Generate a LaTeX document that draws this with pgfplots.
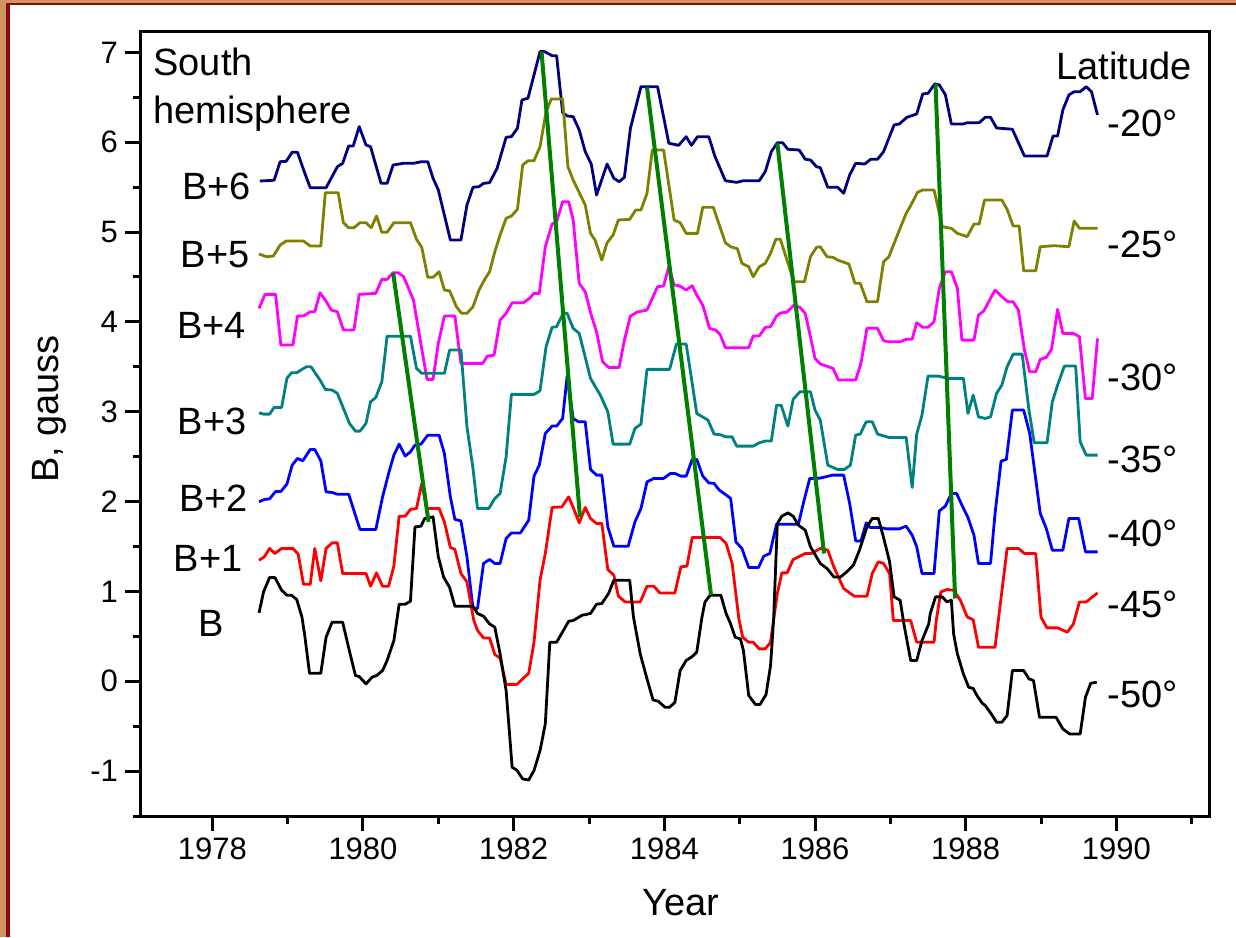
\documentclass[border=0pt]{standalone}
\usepackage{fontspec}
\setmainfont{Liberation Sans}
\usepackage{pgfplots}
\pgfplotsset{compat=1.18}
\definecolor{cnavy}{RGB}{0,0,128}
\definecolor{colive}{RGB}{128,128,0}
\definecolor{cmag}{RGB}{255,0,255}
\definecolor{cteal}{RGB}{0,128,128}
\definecolor{cblue}{RGB}{0,0,255}
\definecolor{cred}{RGB}{255,0,0}
\definecolor{cgreen}{RGB}{0,128,0}
\definecolor{wood}{RGB}{205,148,96}
\definecolor{frred}{RGB}{140,10,10}
\begin{document}
\begin{tikzpicture}[x=1pt,y=1pt]
\useasboundingbox (0,0) rectangle (618,468.5);
\fill[white] (0,0) rectangle (618,468.5);
\fill[wood] (0,0) rectangle (3,468.5);
\fill[wood] (0,467.15) rectangle (618,468.5);
\fill[frred] (3,0) rectangle (5,465.85);
\fill[frred] (3,465.85) rectangle (618,467.15);
\begin{axis}[
  at={(70pt,60.5pt)}, anchor=south west,
  scale only axis, width=534.5pt, height=392.15pt,
  xmin=1977.04, xmax=1991.23, ymin=-1.5, ymax=7.23,
  axis line style={line width=1.5pt},
  tick style={line width=1.5pt, black},
  tick align=outside, tick pos=left,
  major tick length=7.5pt, minor tick length=3.75pt,
  xtick={1978,1980,...,1990}, minor xtick={1979,1981,...,1991},
  ytick={-1,0,...,7}, minor ytick={-1.5,-0.5,...,6.5},
  /pgf/number format/assume math mode=true,
  /pgf/number format/1000 sep={},
  ticklabel style={font=\fontsize{15.5}{18}\selectfont},
  every axis plot/.append style={line width=1.4pt, line join=round},
  clip=false,
]
% B+6
\addplot[cnavy] coordinates {(1978.63,5.568)(1978.82,5.576)(1978.90,5.783)(1978.98,5.787)(1979.06,5.888)(1979.13,5.888)(1979.22,5.672)(1979.30,5.493)(1979.51,5.493)(1979.66,5.727)(1979.73,5.765)(1979.81,5.958)(1979.87,5.958)(1979.95,6.173)(1980.04,5.969)(1980.10,5.950)(1980.24,5.542)(1980.32,5.542)(1980.40,5.746)(1980.54,5.765)(1980.67,5.765)(1980.78,5.783)(1980.86,5.783)(1980.93,5.598)(1981.00,5.468)(1981.16,4.911)(1981.30,4.911)(1981.38,5.301)(1981.46,5.498)(1981.54,5.505)(1981.60,5.542)(1981.68,5.549)(1981.78,5.709)(1981.90,6.055)(1981.97,6.061)(1982.05,6.155)(1982.11,6.470)(1982.19,6.489)(1982.35,7.008)(1982.41,7.008)(1982.51,6.963)(1982.57,6.963)(1982.65,6.329)(1982.71,6.292)(1982.79,6.284)(1982.87,6.136)(1982.95,5.894)(1983.03,5.757)(1983.10,5.412)(1983.24,5.757)(1983.33,5.598)(1983.40,5.560)(1983.47,5.609)(1983.55,6.155)(1983.69,6.618)(1983.91,6.618)(1984.06,5.988)(1984.19,5.965)(1984.29,6.061)(1984.36,5.965)(1984.44,6.061)(1984.59,6.061)(1984.67,5.846)(1984.81,5.571)(1984.96,5.553)(1985.05,5.571)(1985.26,5.571)(1985.34,5.672)(1985.42,5.894)(1985.50,5.994)(1985.57,5.994)(1985.64,5.921)(1985.79,5.913)(1985.87,5.810)(1985.94,5.802)(1986.02,5.727)(1986.07,5.716)(1986.17,5.498)(1986.30,5.498)(1986.38,5.431)(1986.46,5.635)(1986.54,5.765)(1986.66,5.757)(1986.74,5.810)(1986.83,5.810)(1986.91,5.894)(1987.05,6.192)(1987.12,6.203)(1987.22,6.277)(1987.35,6.314)(1987.43,6.537)(1987.50,6.544)(1987.59,6.648)(1987.65,6.637)(1987.73,6.529)(1987.81,6.203)(1987.97,6.203)(1988.02,6.217)(1988.18,6.217)(1988.26,6.277)(1988.33,6.277)(1988.41,6.158)(1988.62,6.144)(1988.78,5.846)(1989.08,5.846)(1989.16,6.069)(1989.22,6.069)(1989.29,6.359)(1989.37,6.526)(1989.44,6.562)(1989.52,6.562)(1989.60,6.618)(1989.67,6.562)(1989.75,6.303)};
% B+5
\addplot[colive] coordinates {(1978.62,4.755)(1978.72,4.725)(1978.81,4.733)(1978.90,4.855)(1978.98,4.900)(1979.21,4.900)(1979.30,4.844)(1979.44,4.844)(1979.50,5.438)(1979.67,5.438)(1979.74,5.104)(1979.81,5.048)(1979.88,5.048)(1979.96,5.104)(1980.04,5.104)(1980.11,5.048)(1980.18,5.178)(1980.25,4.997)(1980.32,4.997)(1980.41,5.104)(1980.63,5.104)(1980.71,4.919)(1980.78,4.830)(1980.86,4.496)(1980.93,4.496)(1981.01,4.558)(1981.08,4.354)(1981.15,4.346)(1981.24,4.168)(1981.31,4.095)(1981.38,4.095)(1981.46,4.168)(1981.54,4.354)(1981.61,4.465)(1981.68,4.558)(1981.75,4.781)(1981.82,4.967)(1981.90,5.153)(1981.97,5.178)(1982.05,5.253)(1982.12,5.746)(1982.19,5.794)(1982.27,5.794)(1982.35,5.950)(1982.43,6.340)(1982.50,6.481)(1982.65,6.481)(1982.72,5.727)(1982.79,5.579)(1982.95,5.301)(1983.02,4.985)(1983.08,4.911)(1983.17,4.688)(1983.24,4.881)(1983.32,4.967)(1983.39,5.134)(1983.54,5.141)(1983.62,5.245)(1983.69,5.245)(1983.77,5.431)(1983.84,5.913)(1983.99,5.913)(1984.13,5.134)(1984.21,5.104)(1984.29,4.985)(1984.44,4.985)(1984.51,5.275)(1984.65,5.275)(1984.81,4.881)(1984.88,4.836)(1984.97,4.814)(1985.03,4.651)(1985.12,4.614)(1985.18,4.502)(1985.26,4.614)(1985.34,4.651)(1985.41,4.763)(1985.48,4.919)(1985.54,4.919)(1985.72,4.447)(1985.86,4.447)(1985.94,4.725)(1986.02,4.830)(1986.07,4.836)(1986.16,4.725)(1986.24,4.718)(1986.30,4.688)(1986.45,4.644)(1986.53,4.429)(1986.60,4.429)(1986.69,4.224)(1986.83,4.224)(1986.91,4.669)(1986.98,4.725)(1987.12,5.022)(1987.21,5.208)(1987.27,5.293)(1987.36,5.442)(1987.43,5.468)(1987.58,5.468)(1987.69,5.059)(1987.81,5.041)(1987.89,4.985)(1988.02,4.948)(1988.11,5.089)(1988.18,5.089)(1988.25,5.356)(1988.48,5.356)(1988.55,5.253)(1988.63,5.067)(1988.71,5.067)(1988.77,4.569)(1988.93,4.569)(1988.99,4.836)(1989.17,4.848)(1989.37,4.836)(1989.44,5.122)(1989.51,5.041)(1989.75,5.041)};
% B+4
\addplot[cmag] coordinates {(1978.62,4.150)(1978.70,4.306)(1978.84,4.306)(1978.91,3.742)(1979.07,3.742)(1979.13,4.065)(1979.21,4.065)(1979.30,4.112)(1979.36,4.112)(1979.43,4.324)(1979.50,4.243)(1979.58,4.131)(1979.66,4.112)(1979.74,3.909)(1979.88,3.909)(1979.95,4.306)(1980.17,4.317)(1980.25,4.473)(1980.32,4.473)(1980.40,4.547)(1980.47,4.547)(1980.54,4.502)(1980.67,4.243)(1980.76,3.797)(1980.85,3.360)(1980.93,3.360)(1981.00,3.761)(1981.08,4.065)(1981.22,4.065)(1981.30,3.538)(1981.59,3.538)(1981.65,3.619)(1981.74,3.630)(1981.82,4.020)(1981.90,4.095)(1981.98,4.213)(1982.13,4.213)(1982.21,4.262)(1982.27,4.317)(1982.34,4.317)(1982.42,4.836)(1982.51,5.089)(1982.57,5.115)(1982.65,5.337)(1982.73,5.337)(1982.79,5.134)(1982.87,4.429)(1982.95,4.335)(1983.03,4.076)(1983.10,3.890)(1983.18,3.556)(1983.26,3.493)(1983.40,3.493)(1983.47,3.797)(1983.55,4.065)(1983.64,4.109)(1983.77,4.131)(1983.91,4.391)(1983.99,4.399)(1984.06,4.614)(1984.13,4.410)(1984.20,4.402)(1984.29,4.354)(1984.37,4.402)(1984.43,4.298)(1984.51,4.187)(1984.60,3.928)(1984.68,3.909)(1984.74,3.861)(1984.81,3.712)(1985.12,3.712)(1985.18,3.842)(1985.26,3.842)(1985.34,3.939)(1985.41,3.946)(1985.49,4.065)(1985.54,4.098)(1985.63,4.109)(1985.72,4.187)(1985.80,4.161)(1985.87,4.095)(1985.94,3.834)(1986.00,3.594)(1986.07,3.530)(1986.24,3.482)(1986.31,3.352)(1986.54,3.352)(1986.61,3.538)(1986.69,3.928)(1986.83,3.928)(1986.91,3.790)(1986.99,3.778)(1987.13,3.778)(1987.21,3.805)(1987.29,3.808)(1987.35,3.990)(1987.43,3.939)(1987.50,3.939)(1987.58,4.001)(1987.65,4.373)(1987.73,4.558)(1987.81,4.558)(1987.89,4.373)(1987.95,3.797)(1988.11,3.797)(1988.17,4.076)(1988.24,4.120)(1988.39,4.354)(1988.48,4.280)(1988.56,4.224)(1988.63,4.224)(1988.70,4.131)(1988.78,3.686)(1988.85,3.444)(1988.93,3.444)(1988.99,3.582)(1989.07,3.605)(1989.14,3.694)(1989.22,4.139)(1989.29,3.872)(1989.43,3.872)(1989.51,3.834)(1989.59,3.148)(1989.68,3.148)(1989.75,3.816)};
% B+3
\addplot[cteal] coordinates {(1978.62,2.988)(1978.68,2.973)(1978.76,2.973)(1978.82,3.048)(1978.92,3.048)(1978.99,3.371)(1979.05,3.433)(1979.12,3.433)(1979.19,3.471)(1979.25,3.500)(1979.31,3.500)(1979.43,3.352)(1979.50,3.248)(1979.59,3.241)(1979.66,3.204)(1979.82,2.870)(1979.90,2.784)(1979.96,2.784)(1980.04,2.870)(1980.10,3.110)(1980.17,3.159)(1980.25,3.333)(1980.32,3.840)(1980.63,3.840)(1980.71,3.482)(1980.78,3.427)(1981.08,3.427)(1981.15,3.686)(1981.30,3.686)(1981.38,2.832)(1981.46,2.369)(1981.52,1.923)(1981.67,1.923)(1981.75,2.035)(1981.82,2.090)(1981.90,2.498)(1981.97,3.193)(1982.27,3.193)(1982.35,3.233)(1982.43,3.723)(1982.51,3.939)(1982.57,3.946)(1982.66,4.101)(1982.71,4.095)(1982.79,3.928)(1982.87,3.872)(1983.02,3.371)(1983.15,3.185)(1983.25,2.999)(1983.32,2.639)(1983.54,2.639)(1983.61,2.814)(1983.69,2.862)(1983.77,3.471)(1984.07,3.471)(1984.16,3.753)(1984.29,3.753)(1984.37,3.315)(1984.43,2.981)(1984.58,2.906)(1984.66,2.751)(1984.75,2.743)(1984.81,2.720)(1984.90,2.720)(1984.96,2.617)(1985.18,2.617)(1985.26,2.654)(1985.34,2.673)(1985.42,2.673)(1985.49,3.073)(1985.55,3.073)(1985.64,2.840)(1985.71,3.137)(1985.80,3.222)(1985.94,3.222)(1986.00,3.018)(1986.07,2.906)(1986.17,2.405)(1986.30,2.357)(1986.39,2.357)(1986.47,2.405)(1986.54,2.739)(1986.60,2.751)(1986.68,2.888)(1986.76,2.888)(1986.83,2.751)(1986.98,2.714)(1987.21,2.714)(1987.29,2.157)(1987.35,2.751)(1987.42,2.962)(1987.50,3.396)(1987.64,3.396)(1987.76,3.371)(1987.97,3.371)(1988.03,2.981)(1988.10,3.185)(1988.17,2.943)(1988.26,2.925)(1988.33,2.943)(1988.41,3.204)(1988.48,3.296)(1988.55,3.500)(1988.63,3.641)(1988.75,3.641)(1988.84,3.018)(1988.91,2.654)(1989.08,2.654)(1989.15,3.110)(1989.22,3.296)(1989.31,3.508)(1989.46,3.508)(1989.52,2.665)(1989.60,2.517)(1989.75,2.517)};
% B+2
\addplot[cblue] coordinates {(1978.62,1.997)(1978.69,2.023)(1978.76,2.030)(1978.84,2.112)(1978.91,2.112)(1978.99,2.194)(1979.06,2.405)(1979.13,2.480)(1979.20,2.453)(1979.30,2.580)(1979.36,2.580)(1979.44,2.453)(1979.51,2.108)(1979.59,2.101)(1979.66,2.082)(1979.81,2.082)(1979.96,1.689)(1980.17,1.689)(1980.26,2.052)(1980.34,2.313)(1980.41,2.517)(1980.48,2.639)(1980.56,2.506)(1980.63,2.553)(1980.69,2.628)(1980.77,2.639)(1980.86,2.739)(1981.01,2.739)(1981.08,2.536)(1981.16,2.052)(1981.22,1.801)(1981.30,1.785)(1981.38,1.384)(1981.46,0.810)(1981.52,0.810)(1981.60,1.311)(1981.68,1.355)(1981.75,1.311)(1981.82,1.311)(1981.90,1.589)(1981.97,1.651)(1982.09,1.651)(1982.20,1.793)(1982.27,2.283)(1982.34,2.405)(1982.42,2.758)(1982.51,2.840)(1982.57,2.840)(1982.65,2.925)(1982.71,3.396)(1982.79,2.925)(1982.86,2.888)(1982.95,2.888)(1983.02,2.357)(1983.10,2.294)(1983.17,2.294)(1983.25,1.718)(1983.33,1.503)(1983.52,1.503)(1983.61,1.774)(1983.69,1.923)(1983.77,2.219)(1983.86,2.257)(1983.99,2.257)(1984.08,2.313)(1984.14,2.313)(1984.22,2.283)(1984.29,2.283)(1984.37,2.469)(1984.43,2.469)(1984.51,2.283)(1984.59,2.208)(1984.66,2.202)(1984.73,2.127)(1984.81,2.079)(1984.88,2.035)(1984.95,1.551)(1985.03,1.478)(1985.12,1.266)(1985.25,1.266)(1985.32,1.392)(1985.40,1.422)(1985.49,1.748)(1985.78,1.748)(1985.85,1.997)(1985.93,2.257)(1986.07,2.261)(1986.23,2.294)(1986.38,2.294)(1986.46,1.979)(1986.54,1.562)(1986.61,1.562)(1986.68,1.763)(1986.73,1.712)(1986.86,1.712)(1986.95,1.696)(1987.12,1.696)(1987.21,1.726)(1987.29,1.626)(1987.35,1.496)(1987.42,1.199)(1987.58,1.199)(1987.65,1.896)(1987.73,1.949)(1987.81,2.090)(1987.88,2.090)(1987.95,1.960)(1988.03,1.823)(1988.11,1.626)(1988.17,1.311)(1988.33,1.311)(1988.39,1.867)(1988.47,2.450)(1988.54,2.469)(1988.62,3.018)(1988.77,3.018)(1988.85,2.758)(1988.99,1.867)(1989.07,1.700)(1989.15,1.459)(1989.29,1.459)(1989.37,1.812)(1989.50,1.812)(1989.59,1.440)(1989.75,1.440)};
% B+1
\addplot[cred] coordinates {(1978.62,1.347)(1978.69,1.384)(1978.76,1.478)(1978.83,1.422)(1978.92,1.478)(1979.07,1.478)(1979.14,1.414)(1979.21,1.080)(1979.30,1.080)(1979.36,1.478)(1979.44,1.117)(1979.51,1.478)(1979.59,1.540)(1979.66,1.540)(1979.73,1.199)(1980.04,1.199)(1980.10,1.058)(1980.18,1.206)(1980.26,1.058)(1980.34,1.058)(1980.41,1.281)(1980.48,1.837)(1980.56,1.837)(1980.63,1.912)(1980.71,1.923)(1980.78,2.202)(1980.85,1.923)(1981.01,1.923)(1981.08,1.774)(1981.16,1.489)(1981.22,1.467)(1981.30,1.199)(1981.38,1.106)(1981.47,0.679)(1981.52,0.565)(1981.60,0.482)(1981.68,0.482)(1981.75,0.297)(1981.82,0.259)(1981.90,-0.037)(1982.04,-0.037)(1982.20,0.089)(1982.27,0.434)(1982.35,1.125)(1982.42,1.422)(1982.51,1.934)(1982.64,1.941)(1982.73,2.052)(1982.79,1.934)(1982.87,1.763)(1982.95,1.934)(1983.02,1.812)(1983.10,1.756)(1983.17,1.756)(1983.25,1.244)(1983.33,1.180)(1983.39,0.947)(1983.48,0.883)(1983.68,0.883)(1983.77,1.058)(1983.86,1.058)(1983.94,0.983)(1984.14,0.983)(1984.22,1.273)(1984.30,1.281)(1984.37,1.600)(1984.74,1.600)(1984.82,1.533)(1984.90,1.311)(1984.99,0.690)(1985.04,0.490)(1985.12,0.434)(1985.18,0.434)(1985.26,0.360)(1985.34,0.360)(1985.41,0.434)(1985.45,0.679)(1985.50,0.977)(1985.56,1.206)(1985.63,1.206)(1985.71,1.355)(1985.78,1.384)(1985.87,1.422)(1985.95,1.422)(1986.07,1.478)(1986.17,1.459)(1986.25,1.273)(1986.38,1.032)(1986.52,0.947)(1986.69,0.947)(1986.76,1.199)(1986.84,1.329)(1986.91,1.311)(1986.99,1.199)(1987.04,0.676)(1987.27,0.676)(1987.35,0.434)(1987.58,0.434)(1987.61,0.679)(1987.67,0.994)(1987.75,1.021)(1987.84,1.013)(1987.93,0.902)(1988.02,0.716)(1988.10,0.683)(1988.17,0.379)(1988.39,0.379)(1988.55,1.478)(1988.70,1.478)(1988.78,1.422)(1988.93,1.422)(1989.00,0.713)(1989.08,0.594)(1989.22,0.594)(1989.35,0.546)(1989.43,0.638)(1989.51,0.883)(1989.60,0.883)(1989.75,0.983)};
% B
\addplot[black] coordinates {(1978.62,0.761)(1978.68,0.994)(1978.76,1.155)(1978.83,1.155)(1978.92,1.013)(1978.99,0.958)(1979.05,0.958)(1979.12,0.910)(1979.19,0.713)(1979.23,0.490)(1979.29,0.089)(1979.44,0.089)(1979.51,0.490)(1979.59,0.657)(1979.73,0.657)(1979.81,0.371)(1979.90,0.063)(1979.95,0.052)(1980.04,-0.030)(1980.12,0.045)(1980.18,0.063)(1980.26,0.119)(1980.32,0.231)(1980.41,0.453)(1980.48,0.857)(1980.56,0.857)(1980.63,0.891)(1980.69,1.718)(1980.77,1.726)(1980.82,1.812)(1980.93,1.830)(1981.00,1.384)(1981.07,1.161)(1981.15,1.043)(1981.22,0.835)(1981.46,0.835)(1981.52,0.754)(1981.60,0.724)(1981.68,0.638)(1981.75,0.601)(1981.82,0.304)(1981.90,-0.104)(1981.98,-0.958)(1982.04,-0.988)(1982.12,-1.088)(1982.20,-1.099)(1982.27,-0.994)(1982.35,-0.772)(1982.42,-0.476)(1982.48,0.434)(1982.57,0.434)(1982.66,0.565)(1982.73,0.668)(1982.79,0.676)(1982.91,0.735)(1983.02,0.754)(1983.10,0.857)(1983.17,0.865)(1983.26,0.977)(1983.33,1.125)(1983.54,1.125)(1983.59,0.716)(1983.68,0.304)(1983.77,0.026)(1983.85,-0.208)(1983.92,-0.223)(1984.01,-0.290)(1984.07,-0.290)(1984.14,-0.234)(1984.21,0.119)(1984.29,0.231)(1984.37,0.275)(1984.43,0.323)(1984.50,0.716)(1984.54,0.883)(1984.61,0.958)(1984.75,0.958)(1984.82,0.754)(1984.88,0.638)(1984.94,0.490)(1985.01,0.471)(1985.05,0.342)(1985.12,-0.159)(1985.21,-0.259)(1985.27,-0.259)(1985.35,-0.148)(1985.41,0.175)(1985.45,0.679)(1985.50,1.756)(1985.56,1.837)(1985.64,1.874)(1985.71,1.837)(1985.78,1.737)(1985.87,1.682)(1985.94,1.496)(1986.07,1.311)(1986.16,1.255)(1986.25,1.161)(1986.34,1.161)(1986.42,1.217)(1986.51,1.292)(1986.59,1.459)(1986.69,1.718)(1986.76,1.812)(1986.84,1.812)(1986.91,1.600)(1986.99,1.329)(1987.05,0.939)(1987.13,0.902)(1987.18,0.638)(1987.27,0.231)(1987.35,0.231)(1987.42,0.453)(1987.51,0.638)(1987.53,0.754)(1987.60,0.939)(1987.69,0.939)(1987.75,0.883)(1987.81,0.902)(1987.84,0.527)(1987.89,0.304)(1987.97,0.081)(1988.04,-0.067)(1988.10,-0.081)(1988.15,-0.159)(1988.22,-0.245)(1988.26,-0.271)(1988.34,-0.364)(1988.41,-0.457)(1988.48,-0.457)(1988.55,-0.382)(1988.62,0.119)(1988.77,0.119)(1988.84,0.026)(1988.90,0.008)(1988.98,-0.401)(1989.20,-0.401)(1989.29,-0.531)(1989.38,-0.587)(1989.52,-0.587)(1989.59,-0.178)(1989.66,-0.022)(1989.74,-0.011)};
% green slanted lines
\addplot[cgreen, line width=2pt] coordinates {(1980.40,4.547)(1980.87,1.774)};
\addplot[cgreen, line width=2pt] coordinates {(1982.37,7.008)(1982.88,1.830)};
\addplot[cgreen, line width=2pt] coordinates {(1983.77,6.611)(1984.62,0.958)};
\addplot[cgreen, line width=2pt] coordinates {(1985.50,5.988)(1986.12,1.422)};
\addplot[cgreen, line width=2pt] coordinates {(1987.60,6.648)(1987.86,0.921)};
\end{axis}
% texts (positions in pt, 0.5 pt per reference pixel)
\begin{scope}[every node/.style={inner sep=0pt, font=\fontsize{19}{23}\selectfont}]
\node[anchor=base west] at (76.5,430.5) {South};
\node[anchor=base west] at (76.5,406.5) {hemisphere};
\node[anchor=base west] at (528,428.5) {Latitude};
\node[anchor=base] at (108.25,368.5) {B+6};
\node[anchor=base] at (107.5,334.5) {B+5};
\node[anchor=base] at (105.75,299) {B+4};
\node[anchor=base] at (106,251) {B+3};
\node[anchor=base] at (106.75,212.5) {B+2};
\node[anchor=base] at (104,182.5) {B+1};
\node[anchor=base] at (105.5,150) {B};
\node[anchor=base west] at (553.5,400.2) {-20°};
\node[anchor=base west] at (553.5,339.5) {-25°};
\node[anchor=base west] at (553.5,273) {-30°};
\node[anchor=base west] at (553.5,232) {-35°};
\node[anchor=base west] at (553.5,195.2) {-40°};
\node[anchor=base west] at (553.5,159.5) {-45°};
\node[anchor=base west] at (553.5,114.5) {-50°};
\node[anchor=base] at (340.5,11) {Year};
\node[anchor=base, rotate=90] at (29,264) {B, gauss};
\end{scope}
\end{tikzpicture}
\end{document}
